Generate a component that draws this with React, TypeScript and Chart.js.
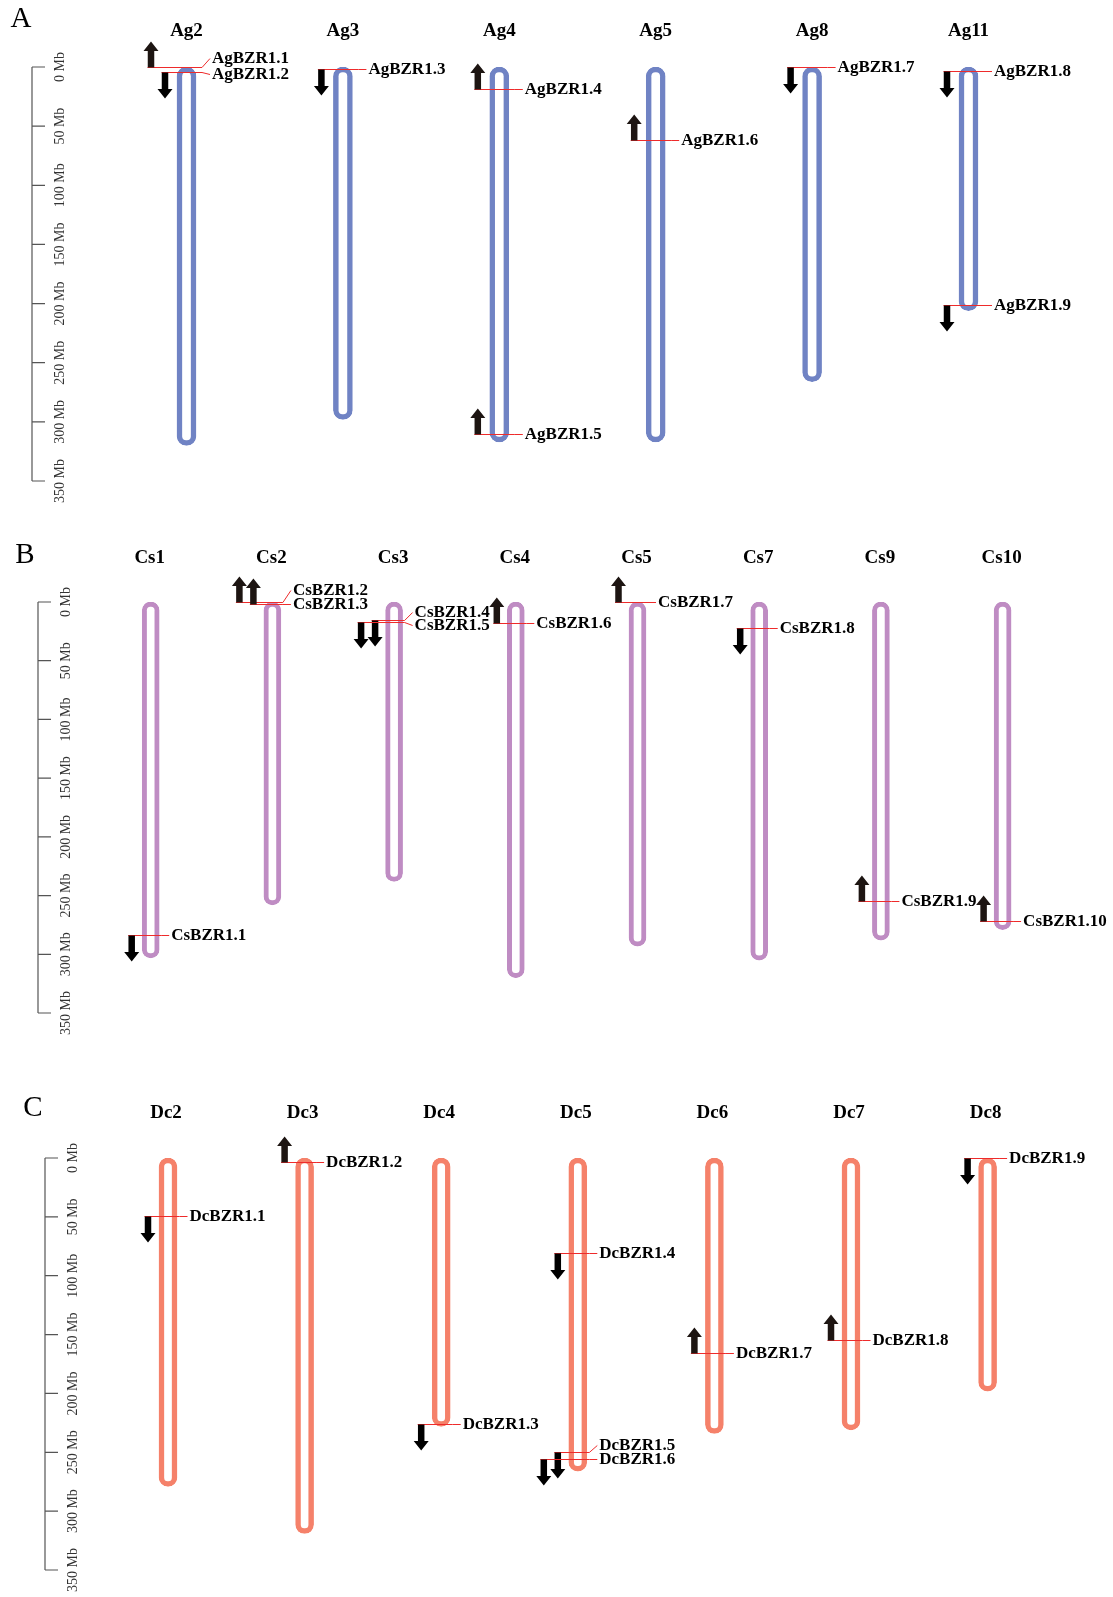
import React, { useEffect, useRef } from 'react';
import { Chart, registerables } from 'chart.js';
Chart.register(...registerables);

// ---------- data ----------
const axisTicks = [0, 50, 100, 150, 200, 250, 300, 350];

// Panel A
const agChromosomes = ['Ag2', 'Ag3', 'Ag4', 'Ag5', 'Ag8', 'Ag11'];
const agLengths = [320, 298, 317, 317, 266, 206];
const agGenes = ['AgBZR1.1', 'AgBZR1.2', 'AgBZR1.3', 'AgBZR1.4', 'AgBZR1.5', 'AgBZR1.6', 'AgBZR1.7', 'AgBZR1.8', 'AgBZR1.9'];
const agGeneChrom = ['Ag2', 'Ag2', 'Ag3', 'Ag4', 'Ag4', 'Ag5', 'Ag8', 'Ag11', 'Ag11'];
const agGenePos = [0, 4, 2, 19, 310, 62, 0, 3, 201];
const agGeneStrand = ['+', '-', '-', '+', '+', '+', '-', '-', '-'];

// Panel B
const csChromosomes = ['Cs1', 'Cs2', 'Cs3', 'Cs4', 'Cs5', 'Cs7', 'Cs9', 'Cs10'];
const csLengths = [303, 258, 238, 320, 293, 305, 288, 279];
const csGenes = ['CsBZR1.1', 'CsBZR1.2', 'CsBZR1.3', 'CsBZR1.4', 'CsBZR1.5', 'CsBZR1.6', 'CsBZR1.7', 'CsBZR1.8', 'CsBZR1.9', 'CsBZR1.10'];
const csGeneChrom = ['Cs1', 'Cs2', 'Cs2', 'Cs3', 'Cs3', 'Cs4', 'Cs5', 'Cs7', 'Cs9', 'Cs10'];
const csGenePos = [284, 0, 2, 15, 17, 18, 0, 22, 255, 272];
const csGeneStrand = ['-', '+', '+', '-', '-', '+', '+', '-', '+', '+'];

// Panel C
const dcChromosomes = ['Dc2', 'Dc3', 'Dc4', 'Dc5', 'Dc6', 'Dc7', 'Dc8'];
const dcLengths = [279, 319, 228, 266, 234, 231, 198];
const dcGenes = ['DcBZR1.1', 'DcBZR1.2', 'DcBZR1.3', 'DcBZR1.4', 'DcBZR1.5', 'DcBZR1.6', 'DcBZR1.7', 'DcBZR1.8', 'DcBZR1.9'];
const dcGeneChrom = ['Dc2', 'Dc3', 'Dc4', 'Dc5', 'Dc5', 'Dc5', 'Dc6', 'Dc7', 'Dc8'];
const dcGenePos = [49, 3, 226, 81, 250, 256, 166, 155, 0];
const dcGeneStrand = ['-', '+', '-', '-', '-', '-', '+', '+', '-'];

// ---------- layout / style (pixels) ----------
const agLayout: Record<string, { lane?: number; dy?: number }> = {
  'AgBZR1.1': { lane: 1, dy: -9 },
  'AgBZR1.2': { lane: 0, dy: 2 },
};
const csLayout: Record<string, { lane?: number; dy?: number }> = {
  'CsBZR1.2': { lane: 1, dy: -12 },
  'CsBZR1.3': { lane: 0, dy: 0 },
  'CsBZR1.4': { lane: 0, dy: -8 },
  'CsBZR1.5': { lane: 1, dy: 3 },
};
const dcLayout: Record<string, { lane?: number; dy?: number }> = {
  'DcBZR1.5': { lane: 0, dy: -7 },
  'DcBZR1.6': { lane: 1, dy: 0 },
};

const PAGE_W = 1113;
const SERIF = '"Liberation Serif", "Times New Roman", serif';

type Panel = {
  letter: string;
  chroms: string[];
  lengths: number[];
  genes: string[];
  geneChrom: string[];
  genePos: number[];
  geneStrand: string[];
  layout: Record<string, { lane?: number; dy?: number }>;
  color: string;
  top: number;
  height: number;
  y0: number;
  y350: number;
  axisX: number;
  firstX: number;
  spacing: number;
  barWidth: number;
  border: number;
  labelDx: number;
  arrowDx: number;
  titleY: number;
  titleDx: number;
  letterX: number;
  letterY: number;
};

const panels: Panel[] = [
  {
    letter: 'A', chroms: agChromosomes, lengths: agLengths, genes: agGenes, geneChrom: agGeneChrom,
    genePos: agGenePos, geneStrand: agGeneStrand, layout: agLayout, color: '#7083C4',
    top: 0, height: 530, y0: 67, y350: 481, axisX: 32, firstX: 186.5, spacing: 156.4,
    barWidth: 19, border: 5.5, labelDx: 25.5, arrowDx: -21.5, titleY: 31, titleDx: 0, letterX: 21, letterY: 19,
  },
  {
    letter: 'B', chroms: csChromosomes, lengths: csLengths, genes: csGenes, geneChrom: csGeneChrom,
    genePos: csGenePos, geneStrand: csGeneStrand, layout: csLayout, color: '#BF8CC3',
    top: 530, height: 530, y0: 602, y350: 1013, axisX: 38, firstX: 150.7, spacing: 121.7,
    barWidth: 17, border: 5, labelDx: 20.5, arrowDx: -19, titleY: 558, titleDx: -1, letterX: 25, letterY: 555,
  },
  {
    letter: 'C', chroms: dcChromosomes, lengths: dcLengths, genes: dcGenes, geneChrom: dcGeneChrom,
    genePos: dcGenePos, geneStrand: dcGeneStrand, layout: dcLayout, color: '#F5816A',
    top: 1060, height: 537, y0: 1158, y350: 1570, axisX: 45, firstX: 168, spacing: 136.6,
    barWidth: 18, border: 5.5, labelDx: 21.5, arrowDx: -20, titleY: 1113, titleDx: -2, letterX: 33, letterY: 1108,
  },
];

function drawArrow(ctx: CanvasRenderingContext2D, ax: number, gy: number, up: boolean) {
  const L = 26, sw = 6.5, hw = 15, hl = 9.5;
  const s = up ? -1 : 1;
  ctx.beginPath();
  ctx.moveTo(ax - sw / 2, gy);
  ctx.lineTo(ax - sw / 2, gy + s * (L - hl));
  ctx.lineTo(ax - hw / 2, gy + s * (L - hl));
  ctx.lineTo(ax, gy + s * L);
  ctx.lineTo(ax + hw / 2, gy + s * (L - hl));
  ctx.lineTo(ax + sw / 2, gy + s * (L - hl));
  ctx.lineTo(ax + sw / 2, gy);
  ctx.closePath();
  ctx.fillStyle = up ? '#1d1512' : '#000000';
  ctx.fill();
}

function makePlugin(p: Panel) {
  return {
    id: 'chromDecor' + p.letter,
    afterDatasetsDraw(chart: any) {
      const ctx: CanvasRenderingContext2D = chart.ctx;
      const xs = chart.scales.x;
      const ys = chart.scales.y;
      ctx.save();

      // panel letter
      ctx.fillStyle = '#000';
      ctx.textAlign = 'center';
      ctx.textBaseline = 'middle';
      ctx.font = `29px ${SERIF}`;
      ctx.fillText(p.letter, p.letterX, p.letterY - p.top);

      // chromosome titles
      ctx.font = `bold 19px ${SERIF}`;
      p.chroms.forEach((c, i) => {
        ctx.fillText(c, xs.getPixelForValue(i) + p.titleDx, p.titleY - p.top);
      });

      // axis
      const yTop = ys.getPixelForValue(axisTicks[0]);
      const yBot = ys.getPixelForValue(axisTicks[axisTicks.length - 1]);
      ctx.strokeStyle = '#555';
      ctx.lineWidth = 1.2;
      ctx.beginPath();
      ctx.moveTo(p.axisX, yTop);
      ctx.lineTo(p.axisX, yBot);
      axisTicks.forEach((t) => {
        const y = ys.getPixelForValue(t);
        ctx.moveTo(p.axisX, y);
        ctx.lineTo(p.axisX + 13, y);
      });
      ctx.stroke();
      ctx.fillStyle = '#333';
      ctx.font = `14px ${SERIF}`;
      axisTicks.forEach((t) => {
        const y = ys.getPixelForValue(t);
        ctx.save();
        ctx.translate(p.axisX + 28, y);
        ctx.rotate(-Math.PI / 2);
        ctx.fillText(`${t} Mb`, 0, 0);
        ctx.restore();
      });

      // genes
      p.genes.forEach((g, i) => {
        const ci = p.chroms.indexOf(p.geneChrom[i]);
        const cx = xs.getPixelForValue(ci);
        const gy = Math.round(ys.getPixelForValue(p.genePos[i])) + 0.5;
        const lay = p.layout[g] || {};
        const lane = lay.lane || 0;
        const dy = lay.dy || 0;
        const ax = cx + p.arrowDx - lane * 14;
        const lx = cx + p.labelDx;
        // red connector
        ctx.strokeStyle = '#ee2b2b';
        ctx.lineWidth = 1;
        ctx.beginPath();
        ctx.moveTo(ax - 3.5, gy);
        ctx.lineTo(lx - 10, gy);
        ctx.lineTo(lx - 2, gy + dy);
        ctx.stroke();
        // arrow
        drawArrow(ctx, ax, gy, p.geneStrand[i] === '+');
        // label
        ctx.fillStyle = '#000';
        ctx.textAlign = 'left';
        ctx.textBaseline = 'middle';
        ctx.font = `bold 17px ${SERIF}`;
        ctx.fillText(g, lx, gy + dy);
      });
      ctx.restore();
    },
  };
}

function PanelChart({ p }: { p: Panel }) {
  const ref = useRef<HTMLCanvasElement | null>(null);
  useEffect(() => {
    if (!ref.current) return;
    const n = p.chroms.length;
    const left = p.firstX - p.spacing / 2;
    const right = PAGE_W - (left + n * p.spacing);
    const chart = new Chart(ref.current, {
      type: 'bar',
      data: {
        labels: p.chroms,
        datasets: [
          {
            data: p.lengths.map((l) => [0, l]) as any,
            backgroundColor: '#ffffff',
            borderColor: p.color,
            borderWidth: p.border,
            borderRadius: p.barWidth / 2,
            borderSkipped: false,
            barThickness: p.barWidth,
          },
        ],
      },
      options: {
        responsive: false,
        animation: false,
        devicePixelRatio: 1,
        events: [],
        layout: {
          padding: { top: p.y0 - p.top, bottom: p.top + p.height - p.y350, left, right },
        },
        scales: {
          x: { type: 'category', display: false, offset: true, grid: { display: false } },
          y: { type: 'linear', display: false, min: 0, max: 350, reverse: true },
        },
        plugins: { legend: { display: false }, tooltip: { enabled: false } },
      },
      plugins: [makePlugin(p)],
    } as any);
    return () => chart.destroy();
  }, [p]);
  return (
    <canvas
      ref={ref}
      width={PAGE_W}
      height={p.height}
      style={{ position: 'absolute', left: 0, top: p.top, width: PAGE_W, height: p.height, display: 'block' }}
    />
  );
}

export default function App() {
  return (
    <div style={{ position: 'absolute', left: 0, top: 0, width: PAGE_W, height: 1597, background: '#fff', overflow: 'hidden' }}>
      {panels.map((p) => (
        <PanelChart key={p.letter} p={p} />
      ))}
    </div>
  );
}
